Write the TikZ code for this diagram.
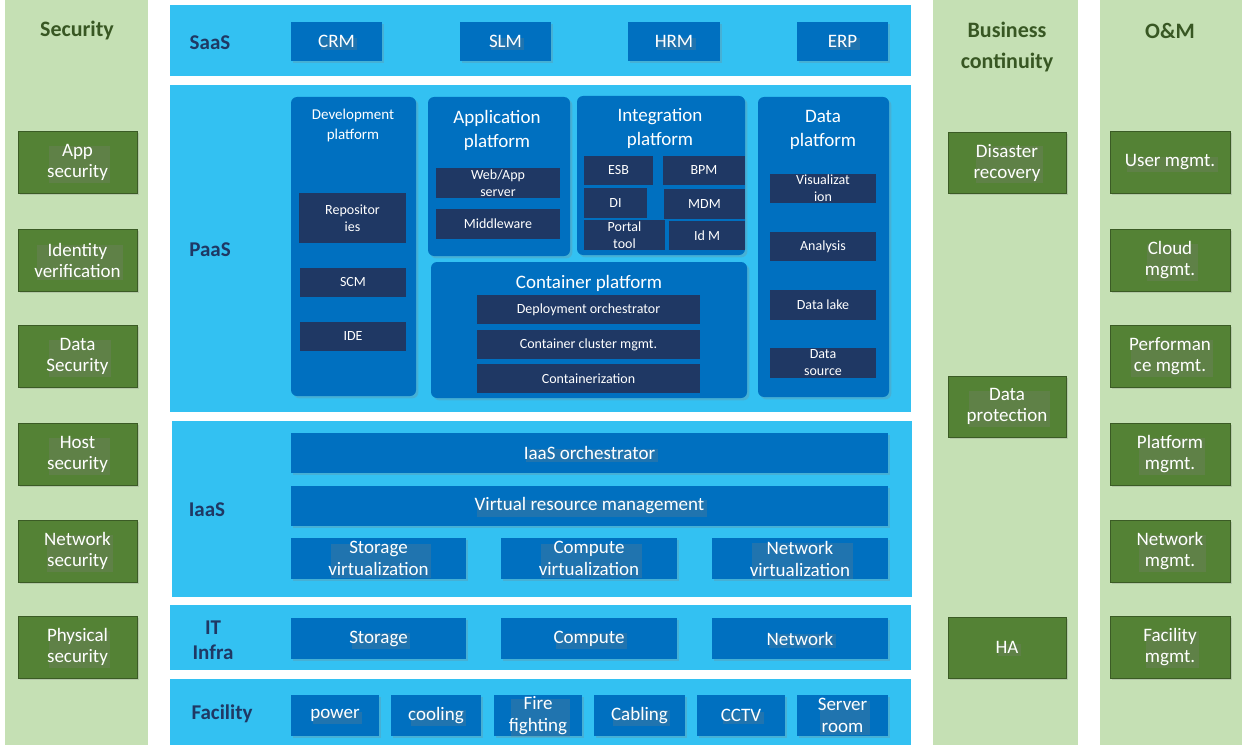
\documentclass[tikz,border=0pt]{standalone}
\usepackage{fontspec}
\setmainfont{Carlito}
\usepackage{tikz}
\usetikzlibrary{shadows}

\definecolor{lgreen}{RGB}{197,224,180}
\definecolor{dgreen}{RGB}{84,130,53}
\definecolor{lblue}{RGB}{51,193,242}
\definecolor{mblue}{RGB}{0,112,192}
\definecolor{navy}{RGB}{31,56,100}
\definecolor{ltext}{RGB}{31,56,100}
\definecolor{gtext}{RGB}{56,87,35}

\tikzset{
  band/.style={fill=lblue,draw=none},
  column/.style={fill=lgreen,draw=none},
  gbox/.style={fill=dgreen,draw=dgreen!70!black,text=white,align=center,font=\fontsize{19}{21}\selectfont,drop shadow={opacity=0.25}},
  bbox/.style={fill=mblue,draw=none,text=white,align=center,font=\fontsize{19}{22}\selectfont,drop shadow={opacity=0.25}},
  pbox/.style={fill=mblue,draw=none,rounded corners=6pt,drop shadow={opacity=0.25}},
  nbox/.style={fill=navy,draw=none,text=white,align=center,font=\fontsize{14}{17}\selectfont},
  layer/.style={text=ltext,font=\bfseries\fontsize{21}{25}\selectfont,align=center},
  head/.style={text=gtext,font=\bfseries\fontsize{22}{31}\selectfont,align=center},
  ptitle/.style={text=white,align=center,font=\fontsize{19}{24}\selectfont}
}
% box from corner to corner with text in the middle
\newcommand{\bx}[7]{\path[#6] (#2,#3) rectangle (#4,#5);
  \node[#6,fill=none,draw=none,drop shadow={opacity=0},inner sep=0pt] (#1) at ({(#2+#4)/2},{(#3+#5)/2}) {#7};}

\begin{document}
\begin{tikzpicture}[x=1pt,y=-1pt]
\useasboundingbox[fill=white] (0,0) rectangle (1249,749);

% columns and bands
\fill[column] (5,0) rectangle (148,745);
\fill[column] (933,0) rectangle (1078,745);
\fill[column] (1100,0) rectangle (1242,745);
\fill[band] (170,5) rectangle (911,76);
\fill[band] (170,85) rectangle (911,412);
\fill[band] (172,421) rectangle (912,597);
\fill[band] (170,605) rectangle (911,670);
\fill[band] (170,679) rectangle (911,745);

\node[head] (sec) at (77,31) {Security};
\node[head] (bc) at (1007,47) {Business\\continuity};
\node[head] (om) at (1170,31) {O\&M};
\node[layer] (saas) at (210,43) {SaaS};
\node[layer] (paas) at (210,250) {PaaS};
\node[layer] (iaas) at (207,510) {IaaS};
\node[layer] (infra) at (213,640) {IT\\Infra};
\node[layer] (fac) at (222,714) {Facility};

% security
\bx{s1}{18}{131}{137}{193}{gbox}{App\\security}
\bx{s2}{18}{229}{137}{291}{gbox}{Identity\\verification}
\bx{s3}{18}{325}{137}{387}{gbox}{Data\\Security}
\bx{s4}{18}{423}{137}{485}{gbox}{Host\\security}
\bx{s5}{18}{520}{137}{582}{gbox}{Network\\security}
\bx{s6}{18}{616}{137}{678}{gbox}{Physical\\security}
% business continuity
\bx{b1}{948}{132}{1066}{193}{gbox}{Disaster\\recovery}
\bx{b2}{948}{376}{1066}{437}{gbox}{Data\\protection}
\bx{b3}{948}{617}{1066}{678}{gbox}{HA}
% O&M
\bx{o1}{1110}{131}{1230}{193}{gbox}{User mgmt.}
\bx{o2}{1110}{229}{1230}{291}{gbox}{Cloud\\mgmt.}
\bx{o3}{1110}{325}{1230}{387}{gbox}{Performan\\ce mgmt.}
\bx{o4}{1110}{423}{1230}{485}{gbox}{Platform\\mgmt.}
\bx{o5}{1110}{520}{1230}{582}{gbox}{Network\\mgmt.}
\bx{o6}{1110}{616}{1230}{678}{gbox}{Facility\\mgmt.}

% SaaS
\bx{crm}{291}{22}{382}{61}{bbox}{CRM}
\bx{slm}{460}{22}{551}{61}{bbox}{SLM}
\bx{hrm}{628}{22}{720}{61}{bbox}{HRM}
\bx{erp}{797}{22}{888}{61}{bbox}{ERP}

% PaaS
\path[pbox] (291,97) rectangle (416,396);
\path[pbox] (428,97) rectangle (570,256);
\path[pbox] (577,96) rectangle (745,255);
\path[pbox] (758,97) rectangle (889,397);
\path[pbox] (431,262) rectangle (747,398);
\node[ptitle,font=\fontsize{15}{20}\selectfont] (dev) at (353,126) {Development\\platform};
\node[ptitle] (app) at (497,130) {Application\\platform};
\node[ptitle] (int) at (660,128) {Integration\\platform};
\node[ptitle] (dat) at (823,130) {Data\\platform};
\node[ptitle] (con) at (589,283) {Container platform};
\bx{rep}{299}{193}{406}{243}{nbox}{Repositor\\ies}
\bx{scm}{300}{268}{406}{297}{nbox}{SCM}
\bx{ide}{300}{322}{406}{351}{nbox}{IDE}
\bx{web}{436}{168}{560}{198}{nbox}{Web/App\\server}
\bx{mid}{436}{209}{560}{239}{nbox}{Middleware}
\bx{esb}{584}{156}{653}{185}{nbox}{ESB}
\bx{bpm}{663}{156}{745}{185}{nbox}{BPM}
\bx{di}{584}{188}{647}{218}{nbox}{DI}
\bx{mdm}{664}{189}{745}{219}{nbox}{MDM}
\bx{por}{584}{220}{665}{250}{nbox}{Portal\\tool}
\bx{idm}{669}{221}{745}{250}{nbox}{Id M}
\bx{vis}{770}{174}{876}{203}{nbox}{Visualizat\\ion}
\bx{ana}{770}{232}{876}{261}{nbox}{Analysis}
\bx{lake}{770}{290}{876}{320}{nbox}{Data lake}
\bx{src}{770}{348}{876}{378}{nbox}{Data\\source}
\bx{dep}{477}{295}{700}{324}{nbox}{Deployment orchestrator}
\bx{clu}{477}{330}{700}{359}{nbox}{Container cluster mgmt.}
\bx{ctz}{477}{364}{700}{393}{nbox}{Containerization}

% IaaS
\bx{orch}{291}{433}{888}{473}{bbox}{IaaS orchestrator}
\bx{vrm}{291}{486}{888}{526}{bbox}{Virtual resource management}
\bx{sv}{291}{538}{466}{579}{bbox}{Storage\\virtualization}
\bx{cv}{501}{538}{677}{579}{bbox}{Compute\\virtualization}
\bx{nv}{712}{538}{888}{579}{bbox}{Network\\virtualization}

% IT infra
\bx{sto}{291}{618}{466}{659}{bbox}{Storage}
\bx{cmp}{501}{618}{677}{659}{bbox}{Compute}
\bx{net}{712}{618}{888}{659}{bbox}{Network}

% facility
\bx{pow}{291}{695}{379}{736}{bbox}{power}
\bx{coo}{391}{695}{481}{736}{bbox}{cooling}
\bx{fir}{494}{695}{582}{736}{bbox}{Fire\\fighting}
\bx{cab}{594}{695}{685}{736}{bbox}{Cabling}
\bx{cct}{697}{695}{785}{736}{bbox}{CCTV}
\bx{srv}{797}{695}{888}{736}{bbox}{Server\\room}
\end{tikzpicture}
\end{document}
